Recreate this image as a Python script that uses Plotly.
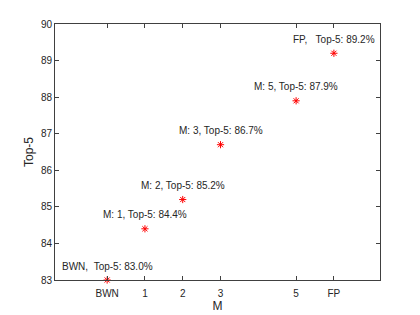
import plotly.graph_objects as go

categories = ["BWN", "1", "2", "3", "5", "FP"]
x_pos = [0, 1, 2, 3, 5, 6]
top5 = [83.0, 84.4, 85.2, 86.7, 87.9, 89.2]
point_labels = [
    "BWN,\u00a0\u00a0Top-5: 83.0%",
    "M: 1, Top-5: 84.4%",
    "M: 2, Top-5: 85.2%",
    "M: 3, Top-5: 86.7%",
    "M: 5, Top-5: 87.9%",
    "FP,\u00a0\u00a0\u00a0Top-5: 89.2%",
]
y_ticks = [83, 84, 85, 86, 87, 88, 89, 90]

axcol = "#404040"
font = dict(family="Liberation Sans, Arial, sans-serif", size=10, color="#262626")

fig = go.Figure()
fig.add_trace(go.Scatter(
    x=x_pos, y=top5, mode="markers",
    marker=dict(symbol="asterisk-open", size=6, color="red",
                line=dict(color="red", width=1)),
    cliponaxis=False, showlegend=False, hoverinfo="skip",
))
for xv, yv, t in zip(x_pos, top5, point_labels):
    fig.add_annotation(x=xv, y=yv, text=t, showarrow=False,
                       xanchor="center", yanchor="middle", yshift=14,
                       font=font)

fig.update_layout(
    width=420, height=315,
    margin=dict(l=55, r=40, t=24, b=35, autoexpand=False),
    paper_bgcolor="white", plot_bgcolor="white",
    font=font, hovermode=False,
    xaxis=dict(range=[-1.38, 7.22], tickvals=x_pos, ticktext=categories,
               showgrid=False, zeroline=False, showline=True, linecolor=axcol,
               linewidth=1, mirror="ticks", ticks="inside", ticklen=4,
               tickcolor=axcol, ticklabelstandoff=4,
               title=dict(text="M", standoff=2),
               tickfont=font, automargin=False),
    yaxis=dict(range=[83, 90], tickvals=y_ticks,
               showgrid=False, zeroline=False, showline=True, linecolor=axcol,
               linewidth=1, mirror="ticks", ticks="inside", ticklen=4,
               tickcolor=axcol, title=dict(text="Top-5", standoff=4),
               tickfont=font, automargin=False),
)
fig.write_html("out.html", config={"displayModeBar": False},
               post_script="document.body.style.margin='0';document.body.style.overflow='hidden';")
